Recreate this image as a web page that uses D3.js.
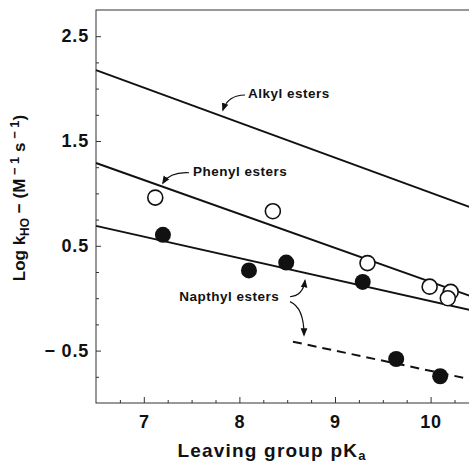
<!DOCTYPE html>
<html>
<head>
<meta charset="utf-8">
<script src="https://cdn.jsdelivr.net/npm/d3@7"></script>
<style>
  body { margin: 0; background: #fff; }
  text { font-family: "Liberation Sans", Arial, Helvetica, sans-serif; font-weight: bold; fill: #111; }
</style>
</head>
<body>
<svg id="chart" width="469" height="462"></svg>
<script>
// leaving group pKa vs log k(HO-)
const phenylPts = [[7.12, 0.96], [8.35, 0.83], [9.34, 0.335], [9.99, 0.11], [10.21, 0.06], [10.18, 0.0]];
const napthylPts = [[7.20, 0.605], [8.10, 0.265], [8.49, 0.34], [9.29, 0.155]];
const napthylLowPts = [[9.64, -0.58], [10.10, -0.745]];

// fitted lines (endpoints)
const alkylLine = [[6.5, 2.176], [10.5, 0.84]];
const phenylLine = [[6.5, 1.29], [10.5, -0.006]];
const napthylLine = [[6.5, 0.69], [10.5, -0.13]];
const napthylLowLine = [[8.56, -0.415], [10.5, -0.79]];

const xTicks = [7, 8, 9, 10];
const yTicks = [2.5, 1.5, 0.5, -0.5];

const labels = [
  { text: 'Alkyl esters', x: 8.09, y: 1.91 },
  { text: 'Phenyl esters', x: 7.515, y: 1.166 },
  { text: 'Napthyl esters', x: 7.37, y: -0.024 }
];
// arrows: from, to, control offset (px)
const arrows = [
  { from: [8.059, 1.939], to: [7.828, 1.796], c: [-17, 0] },
  { from: [7.473, 1.197], to: [7.20, 1.099], c: [-19, -1] },
  { from: [8.529, 0.014], to: [8.686, 0.167], c: [13, -1] },
  { from: [8.529, -0.033], to: [8.676, -0.351], c: [14, 6] }
];

const margin = { top: 10, left: 96, bottom: 59 };
const svg = d3.select('#chart');
const height = +svg.attr('height');
const plotW = 382.4;
const plotH = height - margin.top - margin.bottom;

const g = svg.append('g')
  .attr('transform', `translate(${margin.left},${margin.top})`);

const xScale = d3.scaleLinear().domain([6.5, 10.5]).range([0, plotW]);
const yScale = d3.scaleLinear().domain([-1, 2.75]).range([plotH, 0]);

// frame
g.append('rect')
  .attr('width', plotW).attr('height', plotH)
  .attr('fill', 'none').attr('stroke', '#333').attr('stroke-width', 1);

// minor ticks
const xMinor = d3.range(6.75, 10.5, 0.25).filter(v => Math.abs(v - Math.round(v)) > 0.01);
const yMinor = d3.range(-0.75, 2.75, 0.25).filter(v => !yTicks.some(t => Math.abs(t - v) < 0.01));

g.append('g')
  .attr('transform', `translate(0,${plotH})`)
  .call(d3.axisBottom(xScale).tickValues(xMinor).tickSize(-3).tickFormat(''))
  .call(a => a.select('.domain').remove());
g.append('g')
  .call(d3.axisLeft(yScale).tickValues(yMinor).tickSize(-3).tickFormat(''))
  .call(a => a.select('.domain').remove());

g.append('g')
  .attr('transform', `translate(0,${plotH})`)
  .call(d3.axisBottom(xScale).tickValues(xTicks).tickSize(-6).tickPadding(12).tickFormat(d3.format('d')))
  .call(a => a.select('.domain').remove());
g.append('g')
  .call(d3.axisLeft(yScale).tickValues(yTicks).tickSize(-5).tickPadding(7)
    .tickFormat(d => d < 0 ? '\u2212 ' + Math.abs(d).toFixed(1) : d.toFixed(1)))
  .call(a => a.select('.domain').remove());

svg.selectAll('.tick text')
  .attr('font-size', 18)
  .style('font-family', '"Liberation Sans", Arial, sans-serif')
  .style('font-weight', 'bold')
  .style('letter-spacing', '0.8px')
  .attr('fill', '#111');
svg.selectAll('.tick line').attr('stroke', '#333');

// axis titles
const xt = svg.append('text')
  .attr('x', 272).attr('y', 457)
  .attr('text-anchor', 'middle')
  .attr('font-size', 19)
  .style('letter-spacing', '1.2px')
  .text('Leaving group pK');
xt.append('tspan').attr('font-size', 13).attr('dy', 3).text('a');

const yt = svg.append('text')
  .attr('transform', 'translate(25,198) rotate(-90)')
  .attr('text-anchor', 'middle')
  .attr('font-size', 17);
yt.append('tspan').text('Log k');
yt.append('tspan').attr('font-size', 12).attr('dy', 4).text('HO');
yt.append('tspan').attr('dy', -4).text(' \u2212 (M');
yt.append('tspan').attr('font-size', 13).attr('dy', -6).text(' \u2212 1');
yt.append('tspan').attr('dy', 6).text(' s');
yt.append('tspan').attr('font-size', 13).attr('dy', -6).text(' \u2212 1');
yt.append('tspan').attr('dy', 6).text(')');

// lines
const line = d3.line().x(d => xScale(d[0])).y(d => yScale(d[1]));
[alkylLine, phenylLine, napthylLine].forEach(l => {
  g.append('path').attr('d', line(l))
    .attr('fill', 'none').attr('stroke', '#111').attr('stroke-width', 2);
});
g.append('path').attr('d', line(napthylLowLine))
  .attr('fill', 'none').attr('stroke', '#111').attr('stroke-width', 2)
  .attr('stroke-dasharray', '9,6');

// points
g.selectAll('circle.open').data(phenylPts)
  .enter().append('circle')
    .attr('class', 'open')
    .attr('cx', d => xScale(d[0]))
    .attr('cy', d => yScale(d[1]))
    .attr('r', 7.5)
    .attr('fill', '#fff').attr('stroke', '#111').attr('stroke-width', 1.6);

g.selectAll('circle.filled').data(napthylPts.concat(napthylLowPts))
  .enter().append('circle')
    .attr('class', 'filled')
    .attr('cx', d => xScale(d[0]))
    .attr('cy', d => yScale(d[1]))
    .attr('r', 8)
    .attr('fill', '#111');

// labels + arrows
g.selectAll('text.lbl').data(labels)
  .enter().append('text')
    .attr('class', 'lbl')
    .attr('x', d => xScale(d.x))
    .attr('y', d => yScale(d.y))
    .attr('font-size', 13.5)
    .style('letter-spacing', '0.5px')
    .text(d => d.text);

svg.append('defs').append('marker')
  .attr('id', 'head')
  .attr('viewBox', '0 0 10 10')
  .attr('refX', 8).attr('refY', 5)
  .attr('markerWidth', 7).attr('markerHeight', 7)
  .attr('orient', 'auto')
  .append('path').attr('d', 'M0,1 L10,5 L0,9 Z').attr('fill', '#111');

arrows.forEach(a => {
  const x0 = xScale(a.from[0]), y0 = yScale(a.from[1]);
  const x1 = xScale(a.to[0]), y1 = yScale(a.to[1]);
  const cx = x0 + a.c[0], cy = y0 + a.c[1];
  g.append('path')
    .attr('d', `M${x0},${y0} Q${cx},${cy} ${x1},${y1}`)
    .attr('fill', 'none').attr('stroke', '#111').attr('stroke-width', 1.2)
    .attr('marker-end', 'url(#head)');
});
</script>
</body>
</html>
